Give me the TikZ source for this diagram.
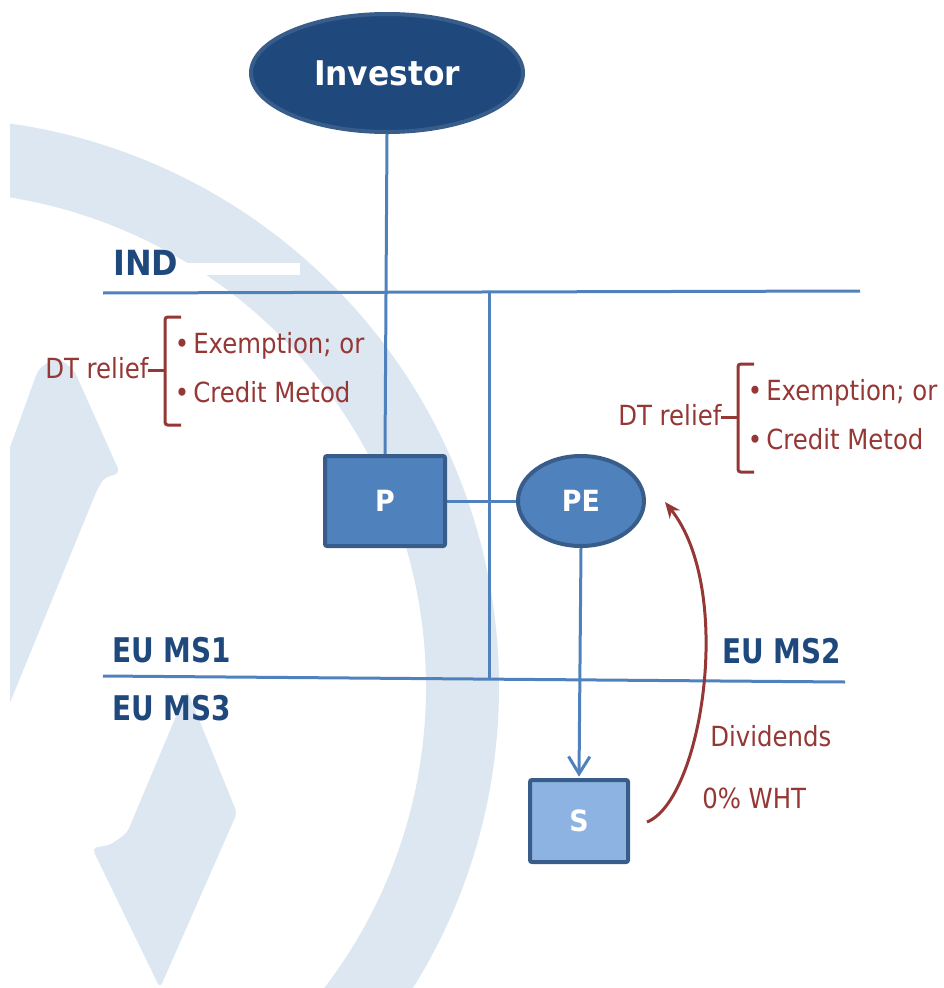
\documentclass[tikz,border=0pt]{standalone}
\usepackage{fontspec}
\setmainfont{DejaVu Sans}
\newfontfamily\eufont[FakeStretch=0.82]{DejaVu Sans}
\newfontfamily\boldfont[FakeStretch=0.92]{DejaVu Sans}
\newfontfamily\txtfont[FakeStretch=0.88]{DejaVu Sans}
\usetikzlibrary{shapes.geometric,arrows.meta,calc}
\definecolor{navy}{RGB}{31,73,125}
\definecolor{navyedge}{RGB}{56,93,138}
\definecolor{linkblue}{RGB}{79,129,189}
\definecolor{lightfill}{RGB}{141,179,226}
\definecolor{relred}{RGB}{149,55,53}
\definecolor{wmark}{RGB}{221,231,241}
\pgfdeclarelayer{wm}
\pgfdeclarelayer{bg}
\pgfsetlayers{wm,bg,main}
\tikzset{
  link/.style={draw=linkblue,line width=2.25pt},
  ent/.style={draw=navyedge,line width=3pt,fill=linkblue,text=white,
    font=\boldfont\bfseries\fontsize{21.9}{24}\selectfont,inner sep=0pt},
  redtxt/.style={text=relred,inner sep=0pt,font=\txtfont\fontsize{20.8}{24}\selectfont},
  bluelbl/.style={text=navy,inner sep=0pt,anchor=base west,font=\boldfont\bfseries\fontsize{26}{30}\selectfont},
  eulbl/.style={bluelbl,font=\eufont\bfseries\fontsize{25.5}{30}\selectfont},
  bracestyle/.style={draw=relred,line width=2.25pt},
  relline/.style={draw=relred,line width=2.25pt},
  dtrelief/.pic={
    \node[redtxt,anchor=base west] (-dt) at (45,378) {DT relief};
    \node[redtxt,anchor=base west] (-ex) at (193,353) {Exemption; or};
    \node[redtxt,anchor=base west] (-cm) at (193,402) {Credit Metod};
    \node[redtxt,anchor=base] (-b1) at (182,353) {•};
    \node[redtxt,anchor=base] (-b2) at (182,402) {•};
    \draw[bracestyle,rounded corners=2pt] (181,317) -- (165,317) -- (165,425) -- (181,425);
    \draw[bracestyle] (165,370) -- (148,370);
  }
}
\begin{document}
\begin{tikzpicture}[x=0.75pt,y=-0.75pt]
\useasboundingbox (0,0) rectangle (944,988);

% watermark
\begin{pgfonlayer}{wm}
\begin{scope}
\clip (10,0) rectangle (944,988);
\fill[wmark,even odd rule] (-70,687) circle[radius=569] (-70,687) circle[radius=496];
\fill[wmark,rounded corners=4pt] (0,475) -- (38,370) -- (56,356) -- (74,370) -- (120,473) -- (104,478) -- (97,490) -- (0,727) -- cycle;
\fill[wmark,rounded corners=4pt] (187,690) -- (237,813) -- (160,988) -- (92,848) -- (110,845) -- (127,833) -- cycle;
\end{scope}
\fill[white] (10,263) rectangle (300,275);
\end{pgfonlayer}

% main entities
\node[ellipse,draw=navyedge,line width=3pt,fill=navy,minimum width=204pt,minimum height=88.5pt,
  inner sep=0pt,text=white,font=\boldfont\bfseries\fontsize{25.5}{28}\selectfont] (inv) at (387,73) {Investor};
\node[ent,rectangle,rounded corners=1.5pt,minimum width=90pt,minimum height=67.5pt] (P) at (385,501) {P};
\node[ent,ellipse,minimum width=94.5pt,minimum height=67.5pt] (PE) at (581,501) {PE};
\node[ent,rectangle,rounded corners=1.5pt,fill=lightfill,minimum width=73.5pt,minimum height=61.5pt] (S) at (579,821) {S};

% border lines
\coordinate (indL) at (103,293);
\coordinate (indR) at (860,291);
\coordinate (euL) at (103,676);
\coordinate (euR) at (845,682);
\coordinate (jTop) at (489,292);
\coordinate (jBot) at (489,678);

\begin{pgfonlayer}{bg}
\draw[link] (indL) -- (indR);
\draw[link] (euL) -- (euR);
\draw[link] (jTop) -- (jBot);
\draw[link] (inv.south) -- (P.north);
\draw[link] (P.east) -- (PE.west);
\draw[link,-{Straight Barb[length=13pt,width=16pt]},shorten >=1pt] (PE.south) -- (S.north);
\end{pgfonlayer}

% labels
\node[bluelbl] (ind) at (113,275) {IND};
\node[eulbl] (ms1) at (112,662) {EU MS1};
\node[eulbl] (ms3) at (112,720) {EU MS3};
\node[eulbl] (ms2) at (722,663) {EU MS2};

% DT relief groups
\pic (L) at (0,0) {dtrelief};
\pic (R) at (573,47) {dtrelief};

% dividends arrow
\coordinate (divA) at ($(S.east)+(17,1)$);
\coordinate (divB) at ($(PE.east)+(19,1)$);
\draw[relline,-{Stealth[length=12pt,width=10pt]}] (divA) .. controls (702,800) and (735,590) .. (divB);
\node[redtxt,anchor=base west] (div) at (710,746) {Dividends};
\node[redtxt,anchor=base west] (wht) at (702,808) {0\% WHT};
\end{tikzpicture}
\end{document}
